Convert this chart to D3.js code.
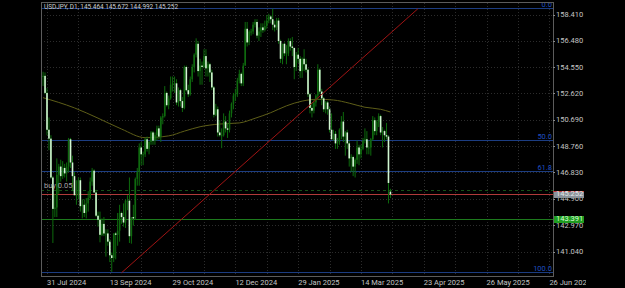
<!DOCTYPE html>
<html>
<head>
<meta charset="utf-8">
<script src="https://cdn.jsdelivr.net/npm/d3@7"></script>
<style>
body { margin: 0; background: #000; }
svg { display: block; font-family: Roboto, "Noto Sans", sans-serif; }
</style>
</head>
<body>
<svg id="chart" width="625" height="288"></svg>
<script>
// USDJPY daily, 29 Jul 2024 .. 4 Apr 2025 (one entry per bar)
var title = "USDJPY, D1, 145.464 145.672 144.992 145.252";

var opens = [
  153.90,153.95,152.70,150.00,149.35,146.50,144.20,144.30,146.70,147.30, // 0
  146.60,147.20,146.80,147.30,149.30,147.60,146.60,145.20,145.20,146.30, // 10
  144.40,144.50,143.90,144.60,145.00,146.20,147.00,145.40,143.70,143.40, // 20
  142.30,143.10,142.40,142.40,141.80,140.80,140.60,142.40,142.30,142.60, // 30
  143.90,143.60,143.20,144.80,144.80,142.20,143.60,143.50,146.40,146.90, // 40
  148.70,148.20,148.20,149.30,148.60,149.10,149.80,149.20,149.60,150.10, // 50
  149.50,150.90,151.00,152.70,151.80,152.30,153.30,153.40,153.40,152.00, // 60
  152.90,152.10,151.60,154.60,152.90,152.60,153.70,154.60,155.50,156.30, // 70
  154.30,154.70,154.60,155.40,154.50,154.80,154.20,153.10,151.10,151.50, // 80
  149.80,149.60,149.60,150.60,150.10,150.00,151.20,151.90,152.50,152.60, // 90
  153.60,154.10,153.40,154.70,157.40,156.40,157.20,157.20,157.70,157.90, // 100
  156.90,157.20,157.50,157.30,157.60,158.00,158.30,158.10,157.70,157.50, // 110
  158.00,156.50,155.20,156.30,155.60,155.60,156.50,156.10,156.00,154.60, // 120
  155.50,155.20,154.30,155.20,154.80,154.40,152.60,151.60,151.40,152.00, // 130
  152.50,154.40,152.80,152.30,151.50,152.00,151.50,150.00,149.30,149.70, // 140
  149.00,149.10,150.00,150.60,149.50,149.80,149.00,147.90,148.00,147.30, // 150
  147.80,148.70,148.20,148.60,149.20,149.30,148.70,148.70,149.30,150.70, // 160
  149.90,150.60,151.00,149.80,149.90,149.60,149.50,145.464               // 170
];
var highs = [
  154.25,154.20,153.05,150.90,149.60,146.60,145.30,147.90,147.50,147.80,
  147.70,147.50,147.60,149.40,149.40,148.10,146.90,146.30,146.50,146.50,
  144.90,144.90,145.00,145.50,146.50,147.20,147.10,145.60,144.00,144.00,
  143.50,143.60,142.70,142.70,142.00,141.00,142.40,142.50,143.90,144.50,
  144.00,144.60,144.90,145.20,146.50,143.60,144.50,146.50,147.20,149.00,
  149.10,148.40,149.40,149.50,149.20,149.90,149.90,149.80,150.30,150.30,
  151.00,151.20,153.20,152.80,152.50,153.90,153.90,153.90,153.70,153.10,
  153.00,152.40,154.70,154.70,153.30,153.90,154.80,155.60,156.70,156.50,
  155.20,155.00,155.90,155.90,155.00,154.90,154.40,153.20,151.90,151.70,
  150.70,150.10,151.20,151.00,150.50,151.40,152.00,152.70,153.00,153.80,
  154.40,154.20,154.90,157.90,157.90,157.30,157.40,157.90,158.10,158.10,
  157.50,157.80,157.80,158.00,158.40,158.50,158.40,158.87,158.00,158.20,
  158.20,156.60,156.30,156.40,156.20,156.70,156.70,156.80,156.00,155.70,
  156.00,155.40,155.30,155.90,155.20,154.50,152.70,152.00,152.20,152.60,
  154.80,154.50,153.00,152.40,152.10,152.10,151.70,151.20,150.00,149.90,
  149.40,150.10,151.00,151.30,149.90,150.00,149.20,148.20,148.10,147.90,
  149.20,148.90,148.90,149.40,150.10,149.90,149.20,149.40,151.00,150.90,
  150.70,151.20,151.10,150.20,150.00,150.50,149.60,145.672
];
var lows = [
  153.20,152.60,149.60,148.50,146.40,141.70,143.60,143.60,145.30,146.20,
  146.40,146.50,146.20,146.90,147.20,145.50,145.20,144.50,144.90,144.00,
  143.50,143.60,143.50,144.00,144.90,145.90,145.40,143.60,142.90,141.75,
  142.20,142.20,140.70,141.50,140.30,139.58,140.30,140.50,141.50,141.80,
  143.10,142.90,142.80,144.10,141.70,141.65,142.97,143.40,145.90,145.90,
  147.40,147.40,148.00,148.40,148.20,148.90,148.90,148.90,149.20,149.30,
  149.10,150.40,150.90,151.70,151.50,152.20,152.80,152.70,151.80,151.70,
  151.70,151.30,151.50,152.80,152.40,152.50,153.50,154.20,155.30,153.90,
  153.30,153.30,154.50,153.90,153.90,153.50,152.90,150.90,151.00,149.50,
  149.50,148.65,149.50,149.80,149.40,149.80,150.90,151.50,152.10,152.40,
  153.40,153.20,153.20,154.70,156.10,156.20,156.90,157.00,157.50,156.70,
  156.50,156.80,157.10,157.20,157.40,157.80,157.80,157.30,157.20,157.30,
  156.30,154.90,154.80,155.40,154.80,155.40,155.80,155.40,153.70,154.30,
  154.90,153.80,153.80,154.30,154.20,152.40,151.20,150.90,151.20,151.70,
  152.20,152.60,151.80,151.30,151.20,151.10,149.80,149.30,149.20,148.60,
  148.60,148.90,149.30,149.10,148.10,148.60,147.30,146.90,146.60,146.50,
  147.50,147.40,147.90,148.50,149.00,148.20,148.20,148.10,149.20,149.60,
  149.60,150.20,149.60,148.70,149.10,149.30,144.60,144.992
];
var closes = [
  153.95,152.70,150.00,149.35,146.50,144.20,144.30,146.70,147.30,146.60,
  147.20,146.80,147.30,149.30,147.60,146.60,145.20,145.20,146.30,144.40,
  144.50,143.90,144.60,145.00,146.20,147.00,145.40,143.70,143.40,142.30,
  143.10,142.40,142.40,141.80,140.80,140.60,142.40,142.30,142.60,143.90,
  143.60,143.20,144.80,144.80,142.20,143.60,143.50,146.40,146.90,148.70,
  148.20,148.20,149.30,148.60,149.10,149.80,149.20,149.60,150.10,149.50,
  150.90,151.00,152.70,151.80,152.30,153.30,153.40,153.40,152.00,152.90,
  152.10,151.60,154.60,152.90,152.60,153.70,154.60,155.50,156.30,154.30,
  154.70,154.60,155.40,154.50,154.80,154.20,153.10,151.10,151.50,149.80,
  149.60,149.60,150.60,150.10,150.00,151.20,151.90,152.50,152.60,153.60,
  154.10,153.40,154.70,157.40,156.40,157.20,157.20,157.70,157.90,156.90,
  157.20,157.50,157.30,157.60,158.00,158.30,158.10,157.70,157.50,158.00,
  156.50,155.20,156.30,155.60,155.60,156.50,156.10,156.00,154.60,155.50,
  155.20,154.30,155.20,154.80,154.40,152.60,151.60,151.40,152.00,152.50,
  154.40,152.80,152.30,151.50,152.00,151.50,150.00,149.30,149.70,149.00,
  149.10,150.00,150.60,149.50,149.80,149.00,147.90,148.00,147.30,147.80,
  148.70,148.20,148.60,149.20,149.30,148.70,148.70,149.30,150.70,149.90,
  150.60,151.00,149.80,149.90,149.60,149.50,146.10,145.252
];

// 200-day moving average, read at a few bars
var maBars   = [0, 16, 28, 40, 52, 64, 72, 80, 90, 100, 108, 116, 124, 132, 140, 148, 156, 164, 172, 177];
var maValues = [152.35,151.60,150.85,150.05,149.42,149.55,149.90,150.22,150.42,150.50,
                150.84,151.25,151.75,152.10,152.23,152.18,151.95,151.65,151.50,151.30];

var priceTicks = [158.41,156.48,154.55,152.62,150.69,148.76,146.83,144.90,142.97,141.04];
var dateTickBars = [2, 34, 66, 98, 130, 162, 194, 226, 258];
var dateTickLabels = ["31 Jul 2024","13 Sep 2024","29 Oct 2024","12 Dec 2024","29 Jan 2025",
                      "14 Mar 2025","23 Apr 2025","26 May 2025","26 Jun 2025"];

// fibonacci retracement
var fibLevels = [0, 50, 61.8, 100];
var fibHigh = 158.87, fibLow = 139.52;
var fibBars = [40, 191];   // anchor bars (low, high)

// trade lines
var entryPrice = 145.56, bidPrice = 145.252, tpPrice = 143.391;
var orderLabel = "buy 0.05";

var svg = d3.select("#chart");
var W = 625, H = 288;
var plot = { left: 41, right: 553, top: 3, bottom: 277 };
var fs = 7.5;

svg.append("rect").attr("width", W).attr("height", H).attr("fill", "#000");

var x = d3.scaleLinear().domain([2, 162]).range([47, 361]);
var y = d3.scaleLinear().domain([141.04, 158.41]).range([252, 15]);
var py = function(p) { return Math.floor(y(p)) + 0.5; };   // crisp horizontal lines
var fibPrice = function(lv) { return fibHigh - (fibHigh - fibLow) * lv / 100; };

svg.append("clipPath").attr("id", "plotclip")
  .append("rect")
  .attr("x", plot.left).attr("y", plot.top)
  .attr("width", plot.right - plot.left).attr("height", plot.bottom - plot.top);

var g = svg.append("g").attr("clip-path", "url(#plotclip)");

// grid
var gridBars = d3.range(2, 270, 16);
g.selectAll("line.vgrid").data(gridBars).enter().append("line")
  .attr("class", "vgrid")
  .attr("x1", function(d) { return Math.round(x(d)) + 0.5; })
  .attr("x2", function(d) { return Math.round(x(d)) + 0.5; })
  .attr("y1", plot.top).attr("y2", plot.bottom)
  .attr("stroke", "#2c2c2c").attr("stroke-dasharray", "1,2");
g.selectAll("line.hgrid").data(priceTicks).enter().append("line")
  .attr("class", "hgrid")
  .attr("x1", plot.left).attr("x2", plot.right)
  .attr("y1", py).attr("y2", py)
  .attr("stroke", "#2c2c2c").attr("stroke-dasharray", "1,2");

// fib level lines
g.selectAll("line.fib").data(fibLevels).enter().append("line")
  .attr("class", "fib")
  .attr("x1", plot.left).attr("x2", plot.right)
  .attr("y1", function(d) { return py(fibPrice(d)); })
  .attr("y2", function(d) { return py(fibPrice(d)); })
  .attr("stroke", "#1c3d82").attr("stroke-width", 1);

// trade lines
g.append("line")
  .attr("x1", plot.left).attr("x2", plot.right)
  .attr("y1", py(entryPrice)).attr("y2", py(entryPrice))
  .attr("stroke", "#175017").attr("stroke-dasharray", "3,3");
g.append("line")
  .attr("x1", plot.left).attr("x2", plot.right)
  .attr("y1", py(bidPrice)).attr("y2", py(bidPrice))
  .attr("stroke", "#b03a3a");
g.append("line")
  .attr("x1", plot.left).attr("x2", plot.right)
  .attr("y1", py(tpPrice)).attr("y2", py(tpPrice))
  .attr("stroke", "#1d7a1d");

// moving average
var maPts = maBars.map(function(b, i) { return [b, maValues[i]]; });
g.append("path").datum(maPts)
  .attr("fill", "none").attr("stroke", "#5e5e18").attr("stroke-width", 1)
  .attr("d", d3.line()
    .x(function(d) { return x(d[0]); })
    .y(function(d) { return y(d[1]); })
    .curve(d3.curveMonotoneX));

// candles
var bars = d3.range(opens.length);
g.selectAll("line.wick").data(bars).enter().append("line")
  .attr("class", "wick")
  .attr("x1", function(i) { return x(i); })
  .attr("x2", function(i) { return x(i); })
  .attr("y1", function(i) { return y(highs[i]); })
  .attr("y2", function(i) { return y(lows[i]); })
  .attr("stroke", "#0d6a0d").attr("stroke-width", 1);
g.selectAll("rect.body").data(bars).enter().append("rect")
  .attr("class", "body")
  .attr("x", function(i) { return x(i) - 0.8; })
  .attr("width", 1.6)
  .attr("y", function(i) { return y(Math.max(opens[i], closes[i])); })
  .attr("height", function(i) { return Math.max(1, Math.abs(y(opens[i]) - y(closes[i]))); })
  .attr("fill", function(i) { return closes[i] < opens[i] ? "#d2f7d2" : "#0f6a0f"; });

// fib trend line
g.append("line")
  .attr("x1", x(fibBars[0])).attr("y1", y(fibLow))
  .attr("x2", x(fibBars[1])).attr("y2", y(fibHigh))
  .attr("stroke", "#a01414").attr("stroke-width", 1);

// fib labels
g.selectAll("text.fibl").data(fibLevels).enter().append("text")
  .attr("class", "fibl")
  .attr("x", plot.right - 1)
  .attr("y", function(d) { return y(fibPrice(d)) - 3.6; })
  .attr("text-anchor", "end").attr("dominant-baseline", "middle")
  .attr("font-size", fs).attr("fill", "#1f4fc0")
  .text(function(d) { return d.toFixed(1); });

// order label
g.append("text")
  .attr("x", 44).attr("y", y(entryPrice) - 4)
  .attr("dominant-baseline", "middle")
  .attr("font-size", fs).attr("fill", "#a6a6a6")
  .text(orderLabel);

// title
svg.append("text")
  .attr("x", 44).attr("y", 7)
  .attr("dominant-baseline", "middle")
  .attr("font-size", 6.4).attr("fill", "#cfcfcf")
  .text(title);

// frame
svg.append("rect")
  .attr("x", plot.left + 0.5).attr("y", plot.top - 0.5)
  .attr("width", plot.right - plot.left).attr("height", plot.bottom - plot.top)
  .attr("fill", "none").attr("stroke", "#5c5c5c");

// price axis
var pa = svg.append("g");
pa.selectAll("line").data(priceTicks).enter().append("line")
  .attr("x1", plot.right).attr("x2", plot.right + 2)
  .attr("y1", py).attr("y2", py)
  .attr("stroke", "#8a8a8a");
pa.selectAll("text").data(priceTicks).enter().append("text")
  .attr("x", plot.right + 3)
  .attr("y", function(d) { return y(d); })
  .attr("dominant-baseline", "middle")
  .attr("font-size", fs).attr("fill", "#c4c4c4")
  .text(function(d) { return d.toFixed(3); });

// price boxes (drawn over the axis labels, as in the terminal)
function priceBox(price, bg, fg, topColor) {
  var yy = Math.floor(y(price));
  svg.append("rect").attr("x", plot.right + 1).attr("y", yy - 3).attr("width", 30).attr("height", 7)
    .attr("fill", bg);
  if (topColor) {
    svg.append("line").attr("x1", plot.right).attr("x2", plot.right + 31)
      .attr("y1", yy - 2.5).attr("y2", yy - 2.5).attr("stroke", topColor);
  }
  svg.append("text").attr("x", plot.right + 3).attr("y", yy + 0.5)
    .attr("dominant-baseline", "middle")
    .attr("font-size", fs).attr("fill", fg)
    .text(price.toFixed(3));
}
priceBox(bidPrice, "#8b929b", "#e4e6e8", "#c03a3a");
priceBox(tpPrice, "#1f9c1f", "#d6ffd6", null);

// time axis
svg.append("clipPath").attr("id", "timeclip")
  .append("rect").attr("x", 0).attr("y", plot.bottom).attr("width", 586).attr("height", 12);
var ta = svg.append("g").attr("clip-path", "url(#timeclip)");
ta.selectAll("text").data(dateTickBars).enter().append("text")
  .attr("x", function(d) { return x(d); })
  .attr("y", 283)
  .attr("dominant-baseline", "middle")
  .attr("font-size", fs).attr("fill", "#c4c4c4")
  .text(function(d, i) { return dateTickLabels[i]; });
</script>
</body>
</html>
